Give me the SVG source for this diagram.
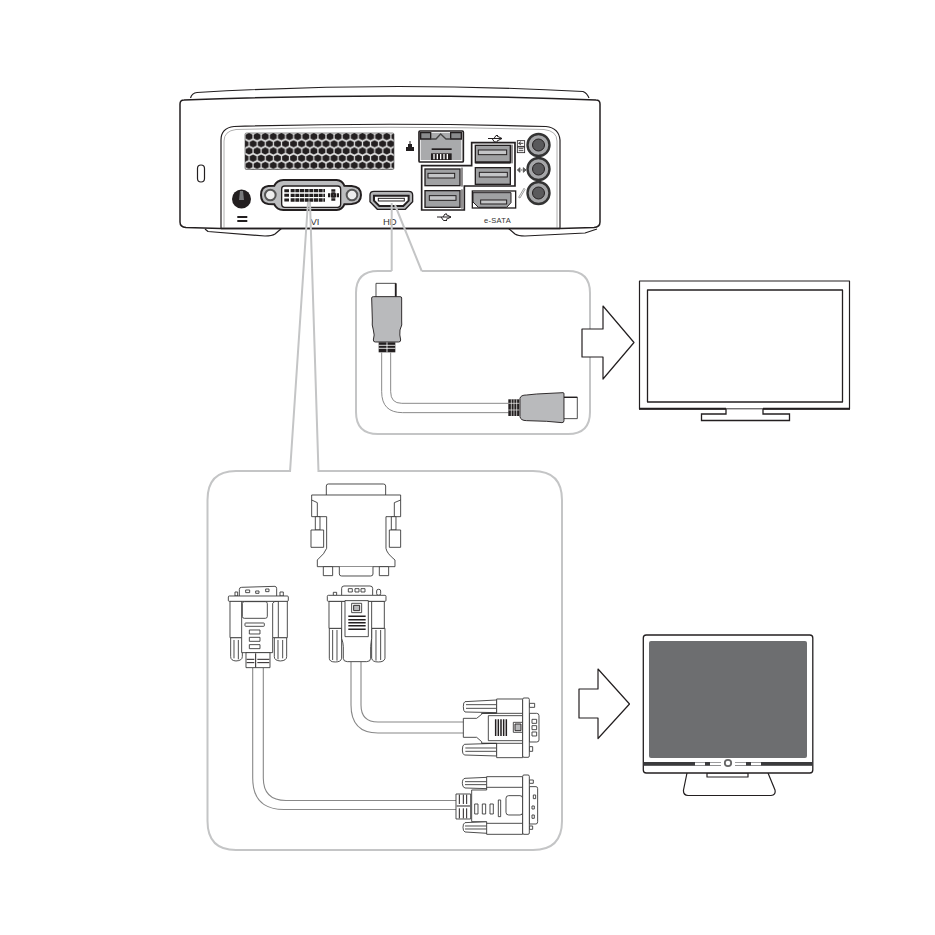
<svg xmlns="http://www.w3.org/2000/svg" width="935" height="935" viewBox="0 0 935 935">
<style>
.l{fill:none;stroke:#231f20;stroke-width:1.200;stroke-linejoin:round}
.w{fill:#fff;stroke:#231f20;stroke-width:1.200;stroke-linejoin:round}
.z{fill:#fff;stroke:#333;stroke-width:2.600;stroke-linejoin:round}
.zl{fill:none;stroke:#333;stroke-width:2.600;stroke-linejoin:round}
.k{fill:#231f20;stroke:none}
.g{fill:#b9babc;stroke:#231f20;stroke-width:2.800;stroke-linejoin:round}
.p{fill:none;stroke:#c4c5c6;stroke-width:2}
.t{font-family:"Liberation Sans",Arial,sans-serif;fill:#333;font-size:8.500px}
.port{fill:#a0a1a3;stroke:#231f20;stroke-width:1.400}
.in{fill:#c4c5c7;stroke:#231f20;stroke-width:.9}
.jo{fill:#a5a6a8;stroke:#333;stroke-width:2.400}
.ji{fill:#5a5a5c;stroke:#231f20;stroke-width:1}
</style>
<defs>
<pattern id="hex" width="8.100" height="14.400" patternUnits="userSpaceOnUse" x="245" y="133">
<rect width="8.100" height="14.400" fill="#e4e4e4"/>
<polygon points="4.050,-.1 7.500,1.600 7.500,5.400 4.050,7.100 .6,5.400 .6,1.600" fill="#231f20"/>
<polygon points="0,7.100 3.450,8.800 3.450,12.600 0,14.300 -3.450,12.600 -3.450,8.800" fill="#231f20"/>
<polygon points="8.100,7.100 11.550,8.800 11.550,12.600 8.100,14.300 4.650,12.600 4.650,8.800" fill="#231f20"/>
</pattern>
</defs>
<rect width="935" height="935" fill="#fff"/>

<g id="pc">
<path class="l" d="M190.500 98Q192 93 197 92.500Q390 81 583 91.500Q587 93 589 98"/>
<path class="l" d="M205 229L208 231.500L265 236Q272 236 275 234L282 228M508 228L515 234Q518 236 525 236L585 233L597 229"/>
<path class="w" style="stroke-width:1.500" d="M180 104Q180 100 184 100Q390 92 596 100Q600 100 600 104V222Q600 227 594 227.500L560 228.500H221L186 227.500Q180 227 180 222Z"/>
<path class="l" d="M221 228V140Q221 128 234 126.500Q390 122 546 126.500Q559 128 560 140V228"/>
<path d="M224 228V141Q224 131 236 129.500Q390 125 544 129.500Q557 131 557 141V228" fill="none" stroke="#999" stroke-width=".8"/>
<path d="M221 228.500H560" stroke="#231f20" stroke-width="1.600"/>
<rect x="197.500" y="165" width="7" height="17" rx="3.500" class="l"/>
<rect x="245" y="133" width="149" height="36.500" rx="1.500" fill="url(#hex)" stroke="#444" stroke-width=".6"/>

<g id="power-port">
<circle cx="241.500" cy="199" r="9.500" fill="#231f20"/>
<path d="M240 191h3l1 9h-5z" fill="#77787a"/>
<rect x="237.300" y="216" width="10" height="2" class="k"/>
<rect x="237.300" y="220" width="10" height="2" class="k"/>
</g>

<g id="dvi-port" transform="translate(225 175) scale(.3333)">
<path d="M108 60Q108 35 130 33L148 32Q155 16 175 15H335Q352 16 358 32L380 33Q408 35 408 60Q408 85 380 87L358 88Q352 104 335 105H175Q155 104 148 88L130 87Q108 85 108 60Z" fill="#bcbdbf" stroke="#231f20" stroke-width="6"/>
<circle cx="136" cy="60" r="16" fill="#eee" stroke="#555" stroke-width="6"/>
<circle cx="381" cy="60" r="16" fill="#eee" stroke="#555" stroke-width="6"/>
<rect x="170" y="33" width="177" height="64" rx="9" fill="#fff" stroke="#231f20" stroke-width="4"/>
<path d="M197 47H300M197 61H300M197 75H300" stroke="#231f20" stroke-width="10" stroke-dasharray="12 2"/>
<path d="M178 47H192M178 61H192M178 75H192" stroke="#231f20" stroke-width="9"/>
<path d="M325 43V79M309 61H342" stroke="#231f20" stroke-width="12" stroke-dasharray="7 2"/>
</g>
<text class="t" x="310.500" y="225" style="font-size:9.500px">VI</text>

<g id="hdmi-port" transform="translate(170 80) scale(.3333)">
<path d="M600 345Q600 334 612 334H716Q728 334 728 345V365L706 388H622L600 365Z" fill="#b5b6b8" stroke="#231f20" stroke-width="4"/>
<path d="M612 347H716V362L700 378H628L612 362Z" fill="#fff" stroke="#231f20" stroke-width="6"/>
<rect x="625" y="355" width="78" height="8" fill="#fff" stroke="#231f20" stroke-width="3"/>
</g>
<text class="t" x="383" y="225" style="font-size:9.500px">HD</text>

<g id="io-ports" transform="translate(410 120) scale(.3333)">
<rect x="27" y="33" width="133" height="93" rx="3" fill="#fff" stroke="#231f20" stroke-width="5"/>
<path d="M32 38H154V120H32Z" fill="#a9aaac"/>
<path d="M32 38H62V57H32ZM122 38H154V57H122Z" fill="#8a8b8d" stroke="#231f20" stroke-width="4"/>
<path d="M62 57H78L92 42L108 57H122" fill="none" stroke="#444" stroke-width="4"/>
<rect x="65" y="85" width="60" height="5" class="k"/>
<rect x="63" y="100" width="62" height="20" class="k"/>
<path d="M72 102V118M82 102V118M92 102V118M102 102V118M112 102V118" stroke="#fff" stroke-width="4"/>
<path d="M185 68H315V198H163V270H35V137H185Z" fill="#fff" stroke="#231f20" stroke-width="5"/>
<rect x="196" y="76" width="105" height="52" class="port" style="stroke-width:4"/>
<path d="M196 127H301" stroke="#231f20" stroke-width="7"/>
<rect x="205" y="90" width="85" height="14" class="in" style="stroke-width:3"/>
<path d="M306 74V130" stroke="#231f20" stroke-width="3"/>
<rect x="196" y="143" width="105" height="50" class="port" style="stroke-width:4"/>
<rect x="208" y="157" width="84" height="14" class="in" style="stroke-width:3"/>
<rect x="45" y="147" width="105" height="50" class="port" style="stroke-width:4"/>
<rect x="54" y="160" width="80" height="14" class="in" style="stroke-width:3"/>
<path d="M156 143V200" stroke="#231f20" stroke-width="3"/>
<rect x="45" y="212" width="105" height="50" class="port" style="stroke-width:4"/>
<rect x="58" y="227" width="80" height="14" class="in" style="stroke-width:3"/>
<path d="M156 208V266" stroke="#231f20" stroke-width="3"/>
<rect x="187" y="213" width="130" height="51" fill="#fff" stroke="#231f20" stroke-width="4"/>
<path d="M189 218H303V248L290 262H205L189 246Z" fill="#a0a1a3" stroke="#231f20" stroke-width="3"/>
<rect x="212" y="240" width="78" height="12" class="in" style="stroke-width:3"/>
<rect x="322" y="62" width="22" height="17" fill="#fff" stroke="#231f20" stroke-width="2.500"/>
<rect x="322" y="81" width="22" height="17" fill="#fff" stroke="#231f20" stroke-width="2.500"/>
<path d="M326 70H340M333 65L326 70L333 75M326 86H340M326 92H340" stroke="#231f20" stroke-width="2.500" fill="none"/>
<path d="M322 150L330 143V157ZM348 150L340 143V157ZM333 150H337" fill="#666" stroke="#444" stroke-width="2.500"/>
<path d="M326 232L342 205L345 208L330 234Z" fill="none" stroke="#666" stroke-width="2"/>
</g>
<circle cx="538.500" cy="145" r="11" class="jo"/><circle cx="538.500" cy="145" r="6" class="ji"/>
<circle cx="538.500" cy="169" r="11" class="jo"/><circle cx="538.500" cy="169" r="6" class="ji"/>
<circle cx="538.500" cy="193" r="11" class="jo"/><circle cx="538.500" cy="193" r="6" class="ji"/>
<path d="M406 151H414V147H412V144H410.500V141H409.500V144H408V147H406Z" class="k"/>
<g id="usb-icons" fill="none" stroke="#231f20" stroke-width="1">
<path d="M488 138.500H502M497 136L502 138.500L497 141M492 138.500L494.500 142H498M494 138.500L496 135.500H498"/>
<path d="M437 217H451M446 214.500L451 217L446 219.500M441 217L443.500 220.500H447M443 217L445 214H447"/>
</g>
<text class="t" x="484" y="222.500" style="font-size:7.500px;letter-spacing:.3px">e-SATA</text>
</g>

<g id="hdmi-panel">
<path class="p" d="M391.700 271H378Q356 271 356 293V412Q356 434 378 434H568Q590 434 590 412V293Q590 271 568 271H421.700"/>
</g>
<g id="hdmi-cable" transform="translate(350 260) scale(.3333)">
<path class="zl" style="stroke:#777" d="M95 278V395Q95 458 158 458H476M122 278V395Q122 430 155 430H476"/>
<rect x="78" y="70" width="60" height="42" class="z"/>
<path d="M137 70V110" stroke="#231f20" stroke-width="5"/>
<path class="g" d="M65 114Q65 110 70 110H150Q155 110 155 114V180Q158 195 150 210Q148 225 152 240Q152 246 146 246H76Q70 246 70 240Q75 225 70 210Q65 195 67 180Z"/>
<rect x="86" y="247" width="50" height="30" class="k"/>
<path d="M86 256H136M86 265H136M111 247V277" stroke="#fff" stroke-width="2.500"/>
<rect x="640" y="412" width="42" height="64" class="z"/>
<path d="M640 412H682" stroke="#231f20" stroke-width="4"/>
<path class="g" d="M510 415Q512 405 530 405L560 402L640 398Q642 398 642 402V482Q642 488 636 488L590 484L530 482Q512 482 510 470Z"/>
<rect x="475" y="418" width="33" height="50" class="k"/>
<path d="M484 418V468M492 418V468M500 418V468M475 430H508M475 450H508" stroke="#fff" stroke-width="2"/>
</g>

<g id="tv">
<rect x="639.500" y="281" width="210" height="128" class="w"/>
<rect x="647.500" y="290" width="195" height="112" class="w" style="stroke-width:1.300"/>
<rect x="726" y="405" width="37" height="10" fill="#fff"/>
<path d="M726 408.800V414H701.500V420.500H789.500V414H763V408.800" fill="none" stroke="#231f20" stroke-width="1.300"/>
<path d="M639 408.800H726M763 408.800H850" stroke="#231f20" stroke-width="2"/>
<path d="M726 408.800H763" stroke="#231f20" stroke-width=".9"/>
</g>

<g id="dvi-panel">
<path class="p" d="M290 471H236Q207.500 471 207.500 500V821Q207.500 850 236 850H533Q562 850 562 821V500Q562 471 533 471H318.500"/>
</g>

<g id="adapter" transform="translate(210 470) scale(.3333)">
<path class="z" d="M349 75V48Q349 42 355 42H520Q527 42 527 48V75"/>
<path class="z" d="M305 75H572V140H528V235Q530 250 555 270V290H322V270Q345 250 350 235V140H305Z"/>
<path class="zl" d="M305 90L322 98V140M572 90L553 98V140"/>
<rect x="316" y="140" width="14" height="40" class="z"/>
<rect x="303" y="180" width="38" height="52" class="z"/>
<rect x="544" y="140" width="14" height="40" class="z"/>
<rect x="538" y="180" width="34" height="52" class="z"/>
<rect x="340" y="290" width="28" height="27" class="z"/>
<rect x="508" y="290" width="28" height="27" class="z"/>
<path class="z" d="M388 290V312Q388 318 395 318H482Q489 318 489 312V290"/>
</g>

<g id="dvi-cable">
<path fill="none" stroke="#888" stroke-width="1.100" d="M252.700 668V778Q252.700 809.500 284 809.500H457M263.300 668V778Q263.300 800.500 286 800.500H457"/>
<g transform="translate(210 470) scale(.3333)">
<path class="z" d="M88 378V358Q88 352 95 352L195 349Q200 350 200 356V378"/>
<rect x="107" y="360" width="12" height="8" class="z"/>
<rect x="137" y="363" width="10" height="7" class="z"/>
<rect x="167" y="357" width="10" height="8" class="z"/>
<rect x="75" y="366" width="8" height="12" class="z"/>
<rect x="210" y="366" width="10" height="12" class="z"/>
<path class="z" d="M62 503V560Q62 572 78 573Q97 572 97 560V503Z"/>
<path class="zl" d="M72 510V565M85 510V568"/>
<path class="z" d="M193 503V560Q193 572 211 573Q230 572 230 560V503Z"/>
<path class="zl" d="M204 510V568M218 510V565"/>
<path class="z" d="M60 393V503H95V548H188V503H232V393Z"/>
<path class="zl" d="M95 393V503M188 503V400Q190 394 205 393V503"/>
<rect x="55" y="378" width="180" height="16" rx="3" class="z"/>
<rect x="97" y="395" width="75" height="50" rx="6" class="z"/>
<rect x="105" y="459" width="58" height="10" rx="2" class="z"/>
<rect x="118" y="480" width="32" height="12" class="z"/>
<rect x="118" y="502" width="32" height="12" class="z"/>
<rect x="118" y="524" width="32" height="12" class="z"/>
<rect x="108" y="548" width="72" height="45" class="z"/>
<path d="M110 568H133M110 578H133M142 568H178M142 578H178M137 550V592" stroke="#231f20" stroke-width="3"/>
</g>
<g transform="translate(430 680) scale(.3333)">
<path class="z" d="M172 292L105 295Q97 296 97 310Q97 322 105 324L172 326Z"/>
<path class="zl" d="M105 305H170M105 314H170"/>
<path class="z" d="M172 425L105 428Q99 430 99 442Q99 454 105 456L172 460Z"/>
<path class="zl" d="M105 438H170M105 447H170"/>
<path class="z" d="M170 290H278V463H170V425H125V330H170Z"/>
<path class="zl" d="M170 322H278M170 430H278"/>
<rect x="78" y="342" width="44" height="75" class="z"/>
<path d="M88 344V372M100 344V372M110 344V372M88 385V415M100 385V415M110 385V415M80 378H120" stroke="#231f20" stroke-width="3"/>
<rect x="228" y="347" width="50" height="58" rx="8" class="z"/>
<rect x="134" y="372" width="10" height="30" class="z"/>
<rect x="157" y="372" width="10" height="30" class="z"/>
<rect x="180" y="372" width="10" height="30" class="z"/>
<rect x="205" y="360" width="7" height="50" class="z"/>
<path class="z" d="M298 320H318Q323 320 323 326V425Q323 432 318 432H298Z"/>
<rect x="310" y="345" width="7" height="11" class="z"/>
<rect x="306" y="378" width="7" height="9" class="z"/>
<rect x="306" y="405" width="7" height="10" class="z"/>
<rect x="298" y="300" width="12" height="10" class="z"/>
<rect x="298" y="438" width="10" height="10" class="z"/>
<rect x="278" y="285" width="20" height="178" rx="4" class="z"/>
</g>
</g>

<g id="vga-cable">
<path fill="none" stroke="#888" stroke-width="1.100" d="M351 662V705Q351 733 378 733H464M361 662V705Q361 722 378 722H464"/>
<g transform="translate(210 470) scale(.3333)">
<path class="z" d="M395 376V355Q395 348 402 348H480Q488 348 488 355V376"/>
<rect x="415" y="356" width="12" height="10" class="z"/>
<rect x="435" y="356" width="12" height="10" class="z"/>
<rect x="453" y="356" width="12" height="10" class="z"/>
<rect x="370" y="367" width="10" height="10" class="z"/>
<rect x="500" y="358" width="12" height="18" rx="5" class="z"/>
<path class="z" d="M358 475V565Q358 576 376 576Q393 576 395 565V475Z"/>
<path class="zl" d="M368 480V570M381 480V572"/>
<path class="z" d="M485 475V565Q487 576 505 576Q523 576 525 565V475Z"/>
<path class="zl" d="M498 480V572M512 480V570"/>
<path class="z" d="M357 394V475H395V505Q400 520 400 530V565Q400 575 412 575H470Q482 575 482 565V530Q483 518 485 505V475H523V394Z"/>
<path class="zl" d="M395 475V394M485 475V394"/>
<rect x="352" y="376" width="176" height="18" rx="3" class="z"/>
<rect x="405" y="392" width="70" height="108" class="z"/>
<rect x="425" y="400" width="30" height="28" class="z"/>
<rect x="431" y="406" width="18" height="16" class="g"/>
<path d="M415 439H467M415 449H467M415 458H467M415 467H467M415 478H467" stroke="#231f20" stroke-width="4.500"/>
</g>
<g transform="translate(430 680) scale(.3333)">
<path class="z" d="M200 60L105 65Q100 66 100 80Q100 94 105 96L200 98Z"/>
<path class="zl" d="M108 74H198M108 85H198"/>
<path class="z" d="M200 190L103 193Q97 195 97 210Q97 222 103 225L200 228Z"/>
<path class="zl" d="M106 204H198M106 214H198"/>
<path class="z" d="M200 57H278V233H200V190H155V185L140 172H100V115H140L155 103V100H200Z"/>
<path class="zl" d="M155 100H278M155 190H278"/>
<rect x="175" y="107" width="103" height="75" class="z"/>
<path d="M197 118V168M205 118V168M213 118V168M221 118V168M229 118V168" stroke="#231f20" stroke-width="4.500"/>
<rect x="250" y="127" width="28" height="30" class="z"/>
<rect x="255" y="132" width="18" height="20" class="g"/>
<path class="z" d="M298 100H320Q327 100 327 107V180Q327 186 320 186H298Z"/>
<rect x="306" y="118" width="14" height="12" class="z"/>
<rect x="306" y="137" width="14" height="12" class="z"/>
<rect x="306" y="156" width="14" height="12" class="z"/>
<rect x="298" y="70" width="16" height="12" class="z"/>
<rect x="298" y="200" width="10" height="14" class="z"/>
<rect x="278" y="54" width="20" height="178" rx="4" class="z"/>
</g>
</g>

<g id="lcd-monitor">
<path class="w" d="M687 773L683.500 790Q683 795 688 795.500H771Q776 795 775 790L768 773"/>
<rect x="707" y="773" width="41" height="4" class="w"/>
<rect x="643.300" y="635" width="169.500" height="138" rx="3" class="w" style="stroke-width:1.300"/>
<rect x="649" y="641" width="158" height="117" rx="2" fill="#6d6e70"/>
<rect x="643.500" y="762" width="169" height="3.800" fill="#3a3a3c"/>
<rect x="695" y="762.500" width="10" height="2.800" fill="#fff"/>
<rect x="710" y="762.500" width="11" height="2.800" fill="#fff"/>
<rect x="735" y="762.500" width="11" height="2.800" fill="#fff"/>
<rect x="751" y="762.500" width="10" height="2.800" fill="#fff"/>
<rect x="721" y="758" width="14" height="9" fill="#fff"/>
<circle cx="728" cy="763" r="3.200" fill="#fff" stroke="#666" stroke-width="1.800"/>
</g>

<g id="connectors">
<path class="p" d="M391.700 271V203M421.700 271L395 205M290 472L308 202M318.500 472L310 202"/>
<path class="w" d="M582 329H603V306L634 342.500L603 379V357H582Z"/>
<path class="w" d="M579 689H598V669L629.500 704L598 738.500V718H579Z"/>
</g>
</svg>
